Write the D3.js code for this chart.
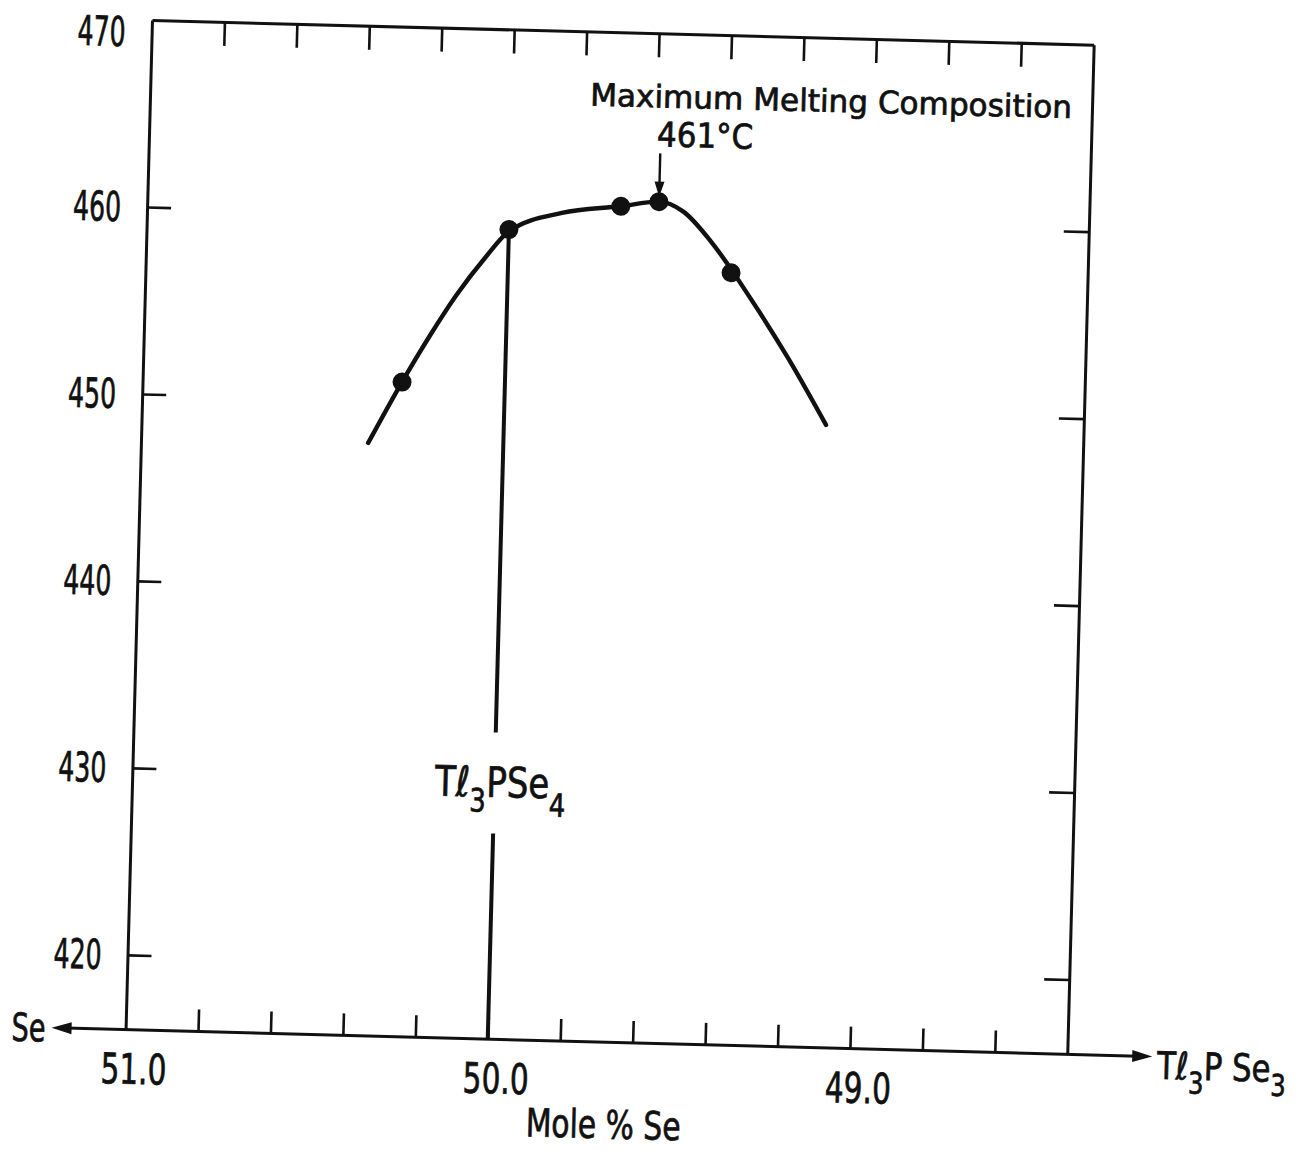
<!DOCTYPE html>
<html><head><meta charset="utf-8">
<script src="https://cdn.jsdelivr.net/npm/d3@7"></script>
<style>
body{margin:0;background:#fff}
text{font-family:"DejaVu Sans Condensed","DejaVu Sans",sans-serif;fill:#111;stroke:#111;stroke-width:0.7px}
</style>
</head><body>
<svg id="c" width="1299" height="1150"></svg>
<script>
// ---- data ----
const xDomain = [51.0, 48.4];            // Mole % Se (reversed)
const yDomain = [470, 416];              // temperature, °C
const xMinorTicks = [50.8, 50.6, 50.4, 50.2, 50.0, 49.8, 49.6, 49.4, 49.2, 49.0, 48.8, 48.6];
const xLabelTicks = [51.0, 50.0, 49.0];
const xLabels = ["51.0", "50.0", "49.0"];
const yTicks = [460, 450, 440, 430, 420];
const yLabelTicks = [470, 460, 450, 440, 430, 420];
const yLabels = ["470", "460", "450", "440", "430", "420"];
const pointX = [50.284, 50.0, 49.693, 49.588, 49.384];
const pointY = [451.0, 459.3, 460.7, 461.0, 457.3];
const curveX = [50.373, 50.284, 50.211, 50.141, 50.062, 50.0, 49.855, 49.693, 49.588, 49.52, 49.44, 49.33, 49.22, 49.111];
const curveY = [447.7, 451.0, 453.5, 455.7, 457.8, 459.2, 460.26, 460.7, 461.0, 460.5, 458.9, 456.0, 452.8, 449.3];
const compoundX = 50.0, compoundTop = 459.3, gapTop = 432.4, gapBottom = 427.0;
const maxX = 49.588, maxY = 461.0;

// ---- layout ----
const W = 942, H = 1010;
const svg = d3.select("#c");
const g = svg.append("g").attr("transform", "translate(152,20) rotate(1.5)");
const x = d3.scaleLinear().domain(xDomain).range([0, W]);
const y = d3.scaleLinear().domain(yDomain).range([0, H]);
const ink = "#111";

function styleAxis(sel){
  sel.selectAll("path.domain").attr("stroke", ink).attr("stroke-width", 3);
  sel.selectAll(".tick line").attr("stroke", ink).attr("stroke-width", 2.6);
  sel.selectAll(".tick text").remove();
}
// top
g.append("g").call(d3.axisTop(x).tickValues(xMinorTicks).tickSize(-24).tickSizeOuter(0).tickFormat("")).call(styleAxis);
// left
g.append("g").call(d3.axisLeft(y).tickValues(yTicks).tickSize(-24).tickSizeOuter(0).tickFormat("")).call(styleAxis);
// right
g.append("g").attr("transform", `translate(${W},0)`)
  .call(d3.axisRight(y).tickValues(yTicks).tickSize(-25).tickSizeOuter(0).tickFormat("")).call(styleAxis);
// bottom ticks
const bx = g.append("g").attr("transform", `translate(0,${H})`)
  .call(d3.axisBottom(x).tickValues(xMinorTicks).tickSize(-22).tickSizeOuter(0).tickFormat("")).call(styleAxis);
bx.select("path.domain").remove();
// extended bottom axis with arrows
const leftTip = -74, rightTip = W + 85;
g.append("line").attr("x1", leftTip + 14).attr("x2", rightTip - 14).attr("y1", H).attr("y2", H)
  .attr("stroke", ink).attr("stroke-width", 3);
g.append("path").attr("d", `M${leftTip},${H} L${leftTip+20},${H-6} L${leftTip+20},${H+6} Z`).attr("fill", ink);
g.append("path").attr("d", `M${rightTip},${H} L${rightTip-20},${H-6} L${rightTip-20},${H+6} Z`).attr("fill", ink);

// tick labels
g.selectAll("text.ylab").data(yLabelTicks).join("text").attr("class", "ylab")
  .attr("x", -26).attr("y", d => Math.max(y(d), 12)).attr("dy", "0.36em")
  .attr("text-anchor", "end").attr("font-size", 41)
  .attr("textLength", 48).attr("lengthAdjust", "spacingAndGlyphs")
  .text((d, i) => yLabels[i]);
g.selectAll("text.xlab").data(xLabelTicks).join("text").attr("class", "xlab")
  .attr("x", d => x(d) + 9).attr("y", H + 54)
  .attr("text-anchor", "middle").attr("font-size", 42)
  .attr("textLength", 66).attr("lengthAdjust", "spacingAndGlyphs")
  .text((d, i) => xLabels[i]);

// axis titles
g.append("text").attr("x", 480).attr("y", H + 96).attr("text-anchor", "middle")
  .attr("font-size", 39).attr("textLength", 155).attr("lengthAdjust", "spacingAndGlyphs").text("Mole % Se");
g.append("text").attr("x", leftTip - 6).attr("y", H + 14).attr("text-anchor", "end")
  .attr("font-size", 39).attr("textLength", 34).attr("lengthAdjust", "spacingAndGlyphs").text("Se");
const rl = g.append("text").attr("transform", `translate(${rightTip + 5},${H + 22}) scale(0.9,1)`).attr("font-size", 38);
rl.append("tspan").text("Tℓ");
rl.append("tspan").attr("font-size", 30).attr("dy", 14).text("3");
rl.append("tspan").attr("dy", -14).text("P Se");
rl.append("tspan").attr("font-size", 30).attr("dy", 14).text("3");

// curve
const pts = curveX.map((d, i) => [x(d), y(curveY[i])]);
g.append("path").attr("d", d3.line().curve(d3.curveMonotoneX)(pts))
  .attr("fill", "none").attr("stroke", ink).attr("stroke-width", 4.4).attr("stroke-linecap", "round");

// compound line Tl3PSe4
g.append("line").attr("x1", x(compoundX)).attr("x2", x(compoundX)).attr("y1", y(compoundTop)).attr("y2", y(gapTop))
  .attr("stroke", ink).attr("stroke-width", 4);
g.append("line").attr("x1", x(compoundX)).attr("x2", x(compoundX)).attr("y1", y(gapBottom)).attr("y2", H)
  .attr("stroke", ink).attr("stroke-width", 4);
const cl = g.append("text").attr("transform", `translate(${x(compoundX) + 6},${(y(gapTop)+y(gapBottom))/2 + 14}) scale(0.9,1)`)
  .attr("text-anchor", "middle").attr("font-size", 42);
cl.append("tspan").text("Tℓ");
cl.append("tspan").attr("font-size", 32).attr("dy", 15).text("3");
cl.append("tspan").attr("dy", -15).text("PSe");
cl.append("tspan").attr("font-size", 32).attr("dy", 18).text("4");

// points
g.selectAll("circle.pt").data(pointX).join("circle").attr("class", "pt")
  .attr("cx", d => x(d)).attr("cy", (d, i) => y(pointY[i])).attr("r", 9.5).attr("fill", ink);

// annotation
g.append("text").attr("x", 681).attr("y", 74).attr("text-anchor", "middle").attr("font-size", 31)
  .attr("textLength", 482).attr("lengthAdjust", "spacingAndGlyphs").text("Maximum Melting Composition");
g.append("text").attr("x", 556).attr("y", 113).attr("text-anchor", "middle").attr("font-size", 34)
  .attr("textLength", 96).attr("lengthAdjust", "spacingAndGlyphs").text("461°C");
const ax = x(maxX), tipY = y(maxY) - 5;
g.append("line").attr("x1", ax).attr("x2", ax).attr("y1", 120).attr("y2", tipY - 10).attr("stroke", ink).attr("stroke-width", 2.4);
g.append("path").attr("d", `M${ax},${tipY} L${ax-5},${tipY-15} L${ax+5},${tipY-15} Z`).attr("fill", ink);
</script>
</body></html>
